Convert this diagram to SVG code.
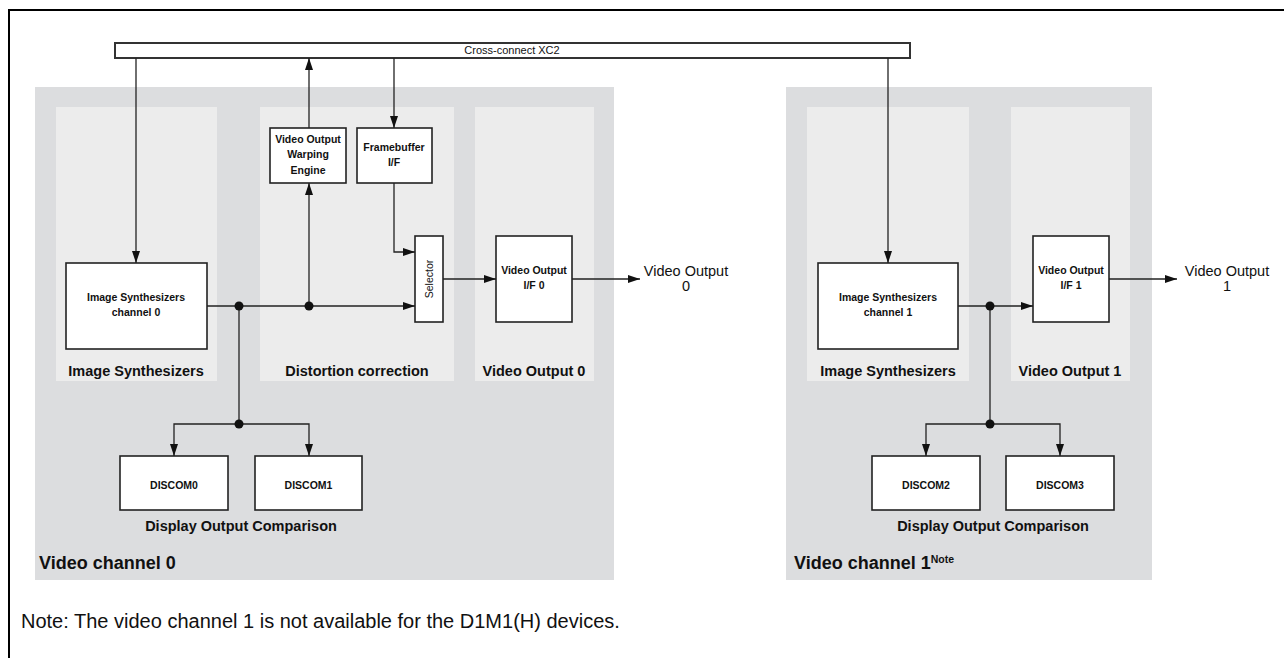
<svg xmlns="http://www.w3.org/2000/svg" width="1284" height="658" viewBox="0 0 1284 658">
<defs>
<style>
.frame{fill:none;stroke:#000;stroke-width:2}
.ch{fill:#dcdddf}
.panel{fill:#ececec}
.box{fill:#fff;stroke:#222;stroke-width:1.6}
.xc{fill:#fff;stroke:#333;stroke-width:2}
.t{font-family:"Liberation Sans",Arial,sans-serif;fill:#111}
.bt{font-family:"Liberation Sans",Arial,sans-serif;font-weight:bold;fill:#111;text-anchor:middle;font-size:10.5px}
.lbl{font-family:"Liberation Sans",Arial,sans-serif;font-weight:bold;fill:#111;text-anchor:middle;font-size:14.5px}
.out{font-family:"Liberation Sans",Arial,sans-serif;fill:#111;text-anchor:middle;font-size:14.5px}
.ln{fill:none;stroke:#222;stroke-width:1.3}
.arr{fill:none;stroke:#222;stroke-width:1.3;marker-end:url(#ah)}
.dot{fill:#111}
</style>
<marker id="ah" markerUnits="userSpaceOnUse" markerWidth="12" markerHeight="8" refX="12" refY="4" orient="auto">
<path d="M0,0 L12,4 L0,8 z" fill="#111"/>
</marker>
</defs>
<rect class="frame" x="9" y="10" width="1300" height="700"/>

<g id="channel0">
<rect class="ch" x="35" y="87" width="579" height="493"/>
<rect class="panel" x="56" y="107" width="161" height="274"/>
<rect class="panel" x="260" y="107" width="194" height="274"/>
<rect class="panel" x="475" y="107" width="119" height="274"/>
<text class="lbl" x="136" y="376">Image Synthesizers</text>
<text class="lbl" x="357" y="376">Distortion correction</text>
<text class="lbl" x="534" y="376">Video Output 0</text>
<text class="lbl" x="241" y="531">Display Output Comparison</text>
<text class="t" x="39" y="569" font-size="18" font-weight="bold">Video channel 0</text>
</g>

<g id="channel1">
<rect class="ch" x="786" y="87" width="366" height="493"/>
<rect class="panel" x="807" y="107" width="162" height="274"/>
<rect class="panel" x="1011" y="107" width="119" height="274"/>
<text class="lbl" x="888" y="376">Image Synthesizers</text>
<text class="lbl" x="1070" y="376">Video Output 1</text>
<text class="lbl" x="993" y="531">Display Output Comparison</text>
<text class="t" x="794" y="569" font-size="18" font-weight="bold">Video channel 1<tspan font-size="10.5" dy="-6">Note</tspan></text>
</g>

<g id="xc2">
<rect class="xc" x="115" y="43" width="795" height="15"/>
<text class="t" x="512" y="54" font-size="11" text-anchor="middle">Cross-connect XC2</text>
</g>

<g id="is0">
<rect class="box" x="66" y="263" width="141" height="86"/>
<text class="bt" x="136" y="301">Image Synthesizers</text>
<text class="bt" x="136" y="316">channel 0</text>
</g>
<g id="vowe">
<rect class="box" x="270" y="128" width="76" height="55"/>
<text class="bt" x="308" y="143">Video Output</text>
<text class="bt" x="308" y="158">Warping</text>
<text class="bt" x="308" y="174">Engine</text>
</g>
<g id="fbif">
<rect class="box" x="357" y="128" width="75" height="55"/>
<text class="bt" x="394" y="151">Framebuffer</text>
<text class="bt" x="394" y="166">I/F</text>
</g>
<g id="selector">
<rect class="box" x="415" y="236" width="28" height="86"/>
<text class="t" font-size="10.5" text-anchor="middle" transform="translate(432.5,279) rotate(-90)">Selector</text>
</g>
<g id="voif0">
<rect class="box" x="496" y="236" width="76" height="86"/>
<text class="bt" x="534" y="274">Video Output</text>
<text class="bt" x="534" y="289">I/F 0</text>
</g>
<g id="discom0">
<rect class="box" x="120" y="456" width="108" height="54"/>
<text class="bt" x="174" y="489">DISCOM0</text>
</g>
<g id="discom1">
<rect class="box" x="255" y="456" width="107" height="54"/>
<text class="bt" x="308.5" y="489">DISCOM1</text>
</g>
<g id="out0">
<text class="out" x="686" y="276">Video Output</text>
<text class="out" x="686" y="291">0</text>
</g>

<g id="is1">
<rect class="box" x="818" y="263" width="140" height="86"/>
<text class="bt" x="888" y="301">Image Synthesizers</text>
<text class="bt" x="888" y="316">channel 1</text>
</g>
<g id="voif1">
<rect class="box" x="1033" y="236" width="76" height="86"/>
<text class="bt" x="1071" y="274">Video Output</text>
<text class="bt" x="1071" y="289">I/F 1</text>
</g>
<g id="discom2">
<rect class="box" x="872" y="456" width="108" height="54"/>
<text class="bt" x="926" y="489">DISCOM2</text>
</g>
<g id="discom3">
<rect class="box" x="1006" y="456" width="108" height="54"/>
<text class="bt" x="1060" y="489">DISCOM3</text>
</g>
<g id="out1">
<text class="out" x="1227" y="276">Video Output</text>
<text class="out" x="1227" y="291">1</text>
</g>

<g id="connectors">
<path class="arr" d="M136,58 V263"/>
<path class="arr" d="M309,128 V58"/>
<path class="arr" d="M309,306 V183"/>
<path class="arr" d="M394,58 V128"/>
<path class="arr" d="M394,183 V252 H415"/>
<path class="arr" d="M207,306 H415"/>
<path class="arr" d="M443,279 H496"/>
<path class="arr" d="M572,279 H640"/>
<path class="ln" d="M239,306 V424"/>
<path class="arr" d="M239,424 H174 V456"/>
<path class="arr" d="M239,424 H309 V456"/>
<circle class="dot" cx="239" cy="306" r="4.5"/>
<circle class="dot" cx="309" cy="306" r="4.5"/>
<circle class="dot" cx="239" cy="424" r="4.5"/>
<path class="arr" d="M888,58 V263"/>
<path class="arr" d="M958,306 H1033"/>
<path class="arr" d="M1109,279 H1177"/>
<path class="ln" d="M990,306 V424"/>
<path class="arr" d="M990,424 H926 V456"/>
<path class="arr" d="M990,424 H1060 V456"/>
<circle class="dot" cx="990" cy="306" r="4.5"/>
<circle class="dot" cx="990" cy="424" r="4.5"/>
</g>

<text class="t" x="21" y="628" font-size="20">Note: The video channel 1 is not available for the D1M1(H) devices.</text>
</svg>
